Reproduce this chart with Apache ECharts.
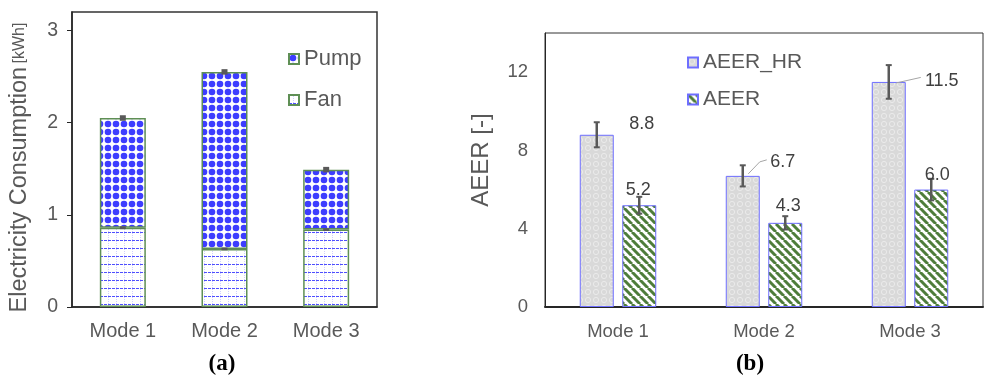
<!DOCTYPE html>
<html>
<head>
<meta charset="utf-8">
<script src="https://cdn.jsdelivr.net/npm/echarts@6/dist/echarts.min.js"></script>
<style>
html,body{margin:0;padding:0;background:#fff;}
#chart{width:996px;height:380px;}
</style>
</head>
<body>
<div id="chart"></div>
<script>
// ---------- data ----------
const categories = ['Mode 1', 'Mode 2', 'Mode 3'];
// (a) Electricity consumption [kWh]
const fanValues = [0.86, 0.63, 0.84];
const pumpValues = [1.19, 1.92, 0.65];
const fanErr = [0.015, 0.015, 0.015];
const totalErr = [0.03, 0.03, 0.03];
const leftTicks = [0, 1, 2, 3];
// (b) AEER [-]
const aeerHR = [8.8, 6.7, 11.5];
const aeerVals = [5.2, 4.3, 6.0];
const aeerHRErr = [0.64, 0.54, 0.86];
const aeerErr = [0.43, 0.34, 0.55];
const rightTicks = [0, 4, 8, 12];

// ---------- styles ----------
const FONT = 'Liberation Sans, Arial, sans-serif';
const TXT = '#595959';
const ERRC = '#595959';

function pattern(w, h, draw) {
  const c = document.createElement('canvas');
  c.width = w; c.height = h;
  const g = c.getContext('2d');
  draw(g);
  return { image: c, repeat: 'repeat' };
}
const dotPattern = pattern(8, 8, g => {
  g.fillStyle = '#fff'; g.fillRect(0, 0, 8, 8);
  g.fillStyle = '#3d3dff';
  g.beginPath(); g.arc(4, 4, 3.3, 0, Math.PI * 2); g.fill();
});
const fanPattern = pattern(8, 8, g => {
  g.fillStyle = '#fff'; g.fillRect(0, 0, 8, 8);
  g.fillStyle = '#cfcfff';
  for (let y = 1; y < 8; y += 2) g.fillRect(4, y, 1, 1);
  g.fillStyle = '#4f4fff';
  g.fillRect(0, 0, 3, 1); g.fillRect(4, 0, 3, 1);
});
const greyPattern = pattern(8, 8, g => {
  g.fillStyle = '#d9d9d9'; g.fillRect(0, 0, 8, 8);
  g.strokeStyle = '#ebebeb'; g.lineWidth = 1;
  g.beginPath(); g.arc(4, 4, 2.6, 0, Math.PI * 2); g.stroke();
});
const stripePattern = pattern(8, 8, g => {
  g.fillStyle = '#fff'; g.fillRect(0, 0, 8, 8);
  g.strokeStyle = '#4e7d3a'; g.lineWidth = 3;
  for (const k of [-8, 0, 8]) {
    g.beginPath(); g.moveTo(k, 0); g.lineTo(k + 8, 8); g.stroke();
  }
});

const BW_R = 34, GAP_R = 0.25;
const OFF_R = (BW_R + BW_R * GAP_R) / 2;

// label offsets (px) relative to top-centre of each bar, plus optional leader line
const hrLabelLayout = [
  { dx: 45, dy: -11 },
  { dx: 40, dy: -14, line: [[5.5, -2], [17, -14], [24, -16]] },
  { dx: 53, dy: -1, line: [[7.5, 1], [32, -4.5]] }
];
const aeerLabelLayout = [
  { dx: -1, dy: -15 },
  { dx: 3, dy: -17 },
  { dx: 6, dy: -15 }
];

function errBarRender(offset, stemW, capW) {
  return function (params, api) {
    const i = api.value(0), v = api.value(1), e = api.value(2);
    const x = api.coord([i, v])[0] + offset;
    const hi = api.coord([i, v + e])[1];
    const lo = api.coord([i, v - e])[1];
    if (stemW >= capW) {
      return { type: 'rect', shape: { x: x - stemW / 2, y: hi, width: stemW, height: Math.max(lo - hi, 2) },
               style: { fill: ERRC } };
    }
    return { type: 'group', children: [
      { type: 'line', shape: { x1: x, y1: hi, x2: x, y2: lo }, style: { stroke: ERRC, lineWidth: stemW } },
      { type: 'line', shape: { x1: x - capW / 2, y1: hi, x2: x + capW / 2, y2: hi }, style: { stroke: ERRC, lineWidth: 2 } },
      { type: 'line', shape: { x1: x - capW / 2, y1: lo, x2: x + capW / 2, y2: lo }, style: { stroke: ERRC, lineWidth: 2 } }
    ]};
  };
}
function labelRender(offset, layout) {
  return function (params, api) {
    const i = api.value(0), v = api.value(1);
    const p = api.coord([i, v]);
    const x = p[0] + offset, y = p[1];
    const L = layout[params.dataIndex];
    const children = [{
      type: 'text', x: x + L.dx, y: y + L.dy,
      style: { text: v.toFixed(1), fill: '#404040', fontSize: 18, fontFamily: FONT,
               align: 'center', verticalAlign: 'middle' }
    }];
    if (L.line) {
      children.push({ type: 'polyline', shape: { points: L.line.map(q => [x + q[0], y + q[1]]) },
                      style: { stroke: '#a6a6a6', lineWidth: 1, fill: null } });
    }
    return { type: 'group', children };
  };
}

const totals = fanValues.map((f, i) => f + pumpValues[i]);

const option = {
  animation: false,
  backgroundColor: '#fff',
  textStyle: { fontFamily: FONT },
  grid: [
    { left: 72, top: 12, width: 305, height: 295, show: true, borderColor: '#333', borderWidth: 1.5 },
    { left: 545, top: 33, width: 438, height: 274, show: true, borderColor: '#333', borderWidth: 1 }
  ],
  legend: [
    { data: ['Pump', 'Fan'], orient: 'vertical', left: 283, top: 43, itemWidth: 10, itemHeight: 10, itemGap: 19,
      icon: 'rect', textStyle: { color: TXT, fontSize: 22, fontFamily: FONT } },
    { data: ['AEER_HR', 'AEER'], orient: 'vertical', left: 682, top: 47, itemWidth: 10, itemHeight: 10, itemGap: 16,
      icon: 'rect', textStyle: { color: TXT, fontSize: 21, fontFamily: FONT } }
  ],
  xAxis: [
    { type: 'category', data: categories, gridIndex: 0,
      axisLine: { lineStyle: { color: '#262626', width: 1.5 } }, axisTick: { show: false },
      axisLabel: { color: TXT, fontSize: 20, margin: 14, fontFamily: FONT } },
    { type: 'category', data: categories, gridIndex: 1,
      axisLine: { lineStyle: { color: '#262626', width: 2 } }, axisTick: { show: false },
      axisLabel: { color: TXT, fontSize: 18.5, margin: 15, fontFamily: FONT } }
  ],
  yAxis: [
    { type: 'value', gridIndex: 0, min: 0, max: 3.2, interval: 1,
      name: '{a|Electricity Consumption} {b|[kWh]}', nameLocation: 'middle', nameGap: 40,
      nameTextStyle: { color: TXT, padding: [0, 16, 0, 0], rich: { a: { fontSize: 23.5, color: TXT, fontFamily: FONT }, b: { fontSize: 16, color: TXT, fontFamily: FONT } } },
      axisLine: { show: true, lineStyle: { color: '#262626', width: 1.5 } },
      axisTick: { show: true, length: 5, inside: false, customValues: leftTicks, lineStyle: { color: '#262626' } },
      axisLabel: { color: TXT, fontSize: 19.5, margin: 14, customValues: leftTicks, fontFamily: FONT },
      splitLine: { show: false } },
    { type: 'value', gridIndex: 1, min: 0, max: 14, interval: 4,
      name: 'AEER [-]', nameLocation: 'middle', nameGap: 52,
      nameTextStyle: { color: TXT, fontSize: 24, fontFamily: FONT, padding: [0, 0, 0, 20] },
      axisLine: { show: true, lineStyle: { color: '#262626', width: 1 } },
      axisTick: { show: false },
      axisLabel: { color: TXT, fontSize: 18.5, margin: 17, customValues: rightTicks, fontFamily: FONT },
      splitLine: { show: false } }
  ],
  series: [
    { name: 'Fan', type: 'bar', stack: 'e', xAxisIndex: 0, yAxisIndex: 0, data: fanValues, barWidth: 46,
      itemStyle: { color: fanPattern, borderColor: '#5f8f55', borderWidth: 1.5 } },
    { name: 'Pump', type: 'bar', stack: 'e', xAxisIndex: 0, yAxisIndex: 0, data: pumpValues, barWidth: 46,
      itemStyle: { color: dotPattern, borderColor: '#5f8f55', borderWidth: 1.5 } },
    { type: 'custom', xAxisIndex: 0, yAxisIndex: 0, z: 5, renderItem: errBarRender(0, 6, 6),
      data: fanValues.map((v, i) => [i, v, fanErr[i]]), encode: { x: 0, y: 1 } },
    { type: 'custom', xAxisIndex: 0, yAxisIndex: 0, z: 5, renderItem: errBarRender(0, 6, 6),
      data: totals.map((v, i) => [i, v, totalErr[i]]), encode: { x: 0, y: 1 } },

    { name: 'AEER_HR', type: 'bar', xAxisIndex: 1, yAxisIndex: 1, data: aeerHR, barWidth: BW_R, barGap: '25%',
      itemStyle: { color: greyPattern, borderColor: '#6e6eff', borderWidth: 1 } },
    { name: 'AEER', type: 'bar', xAxisIndex: 1, yAxisIndex: 1, data: aeerVals, barWidth: BW_R, barGap: '25%',
      itemStyle: { color: stripePattern, borderColor: '#6e6eff', borderWidth: 1 } },
    { type: 'custom', xAxisIndex: 1, yAxisIndex: 1, z: 5, renderItem: errBarRender(-OFF_R, 2.5, 6),
      data: aeerHR.map((v, i) => [i, v, aeerHRErr[i]]), encode: { x: 0, y: 1 } },
    { type: 'custom', xAxisIndex: 1, yAxisIndex: 1, z: 5, renderItem: errBarRender(OFF_R, 2.5, 6),
      data: aeerVals.map((v, i) => [i, v, aeerErr[i]]), encode: { x: 0, y: 1 } },
    { type: 'custom', xAxisIndex: 1, yAxisIndex: 1, z: 6, renderItem: labelRender(-OFF_R, hrLabelLayout),
      data: aeerHR.map((v, i) => [i, v]), encode: { x: 0, y: 1 } },
    { type: 'custom', xAxisIndex: 1, yAxisIndex: 1, z: 6, renderItem: labelRender(OFF_R, aeerLabelLayout),
      data: aeerVals.map((v, i) => [i, v]), encode: { x: 0, y: 1 } }
  ],
  graphic: [
    { type: 'text', x: 222, y: 364, style: { text: '(a)', fontFamily: 'Liberation Serif, Times New Roman, serif', fontWeight: 'bold', fontSize: 23, fill: '#000', align: 'center', verticalAlign: 'middle' } },
    { type: 'text', x: 750, y: 364, style: { text: '(b)', fontFamily: 'Liberation Serif, Times New Roman, serif', fontWeight: 'bold', fontSize: 23, fill: '#000', align: 'center', verticalAlign: 'middle' } }
  ]
};

const chart = echarts.init(document.getElementById('chart'), null, { renderer: 'canvas' });
chart.setOption(option);
</script>
</body>
</html>
